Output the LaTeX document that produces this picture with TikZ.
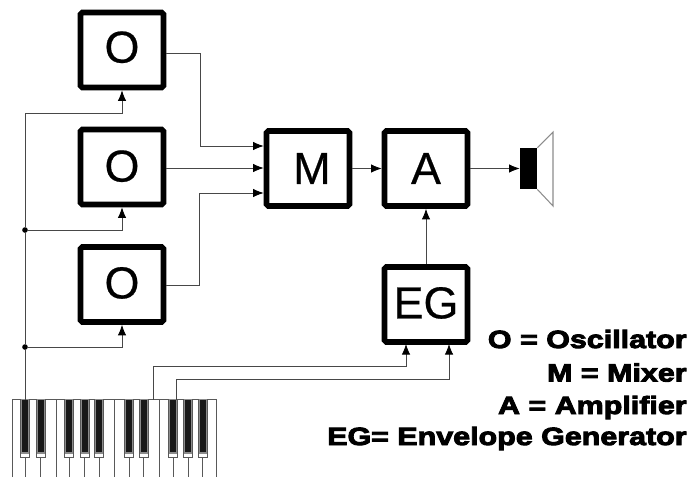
\documentclass[tikz,border=0pt]{standalone}
\usepackage{fontspec}
\setmainfont{Liberation Sans}
\newfontfamily\legendfont[FakeBold=3.8,FakeStretch=1.22]{Liberation Sans Bold}
\newfontfamily\modulefont[FakeBold=0.5]{Liberation Sans}
\usetikzlibrary{arrows.meta}
\begin{document}
\begin{tikzpicture}[
  x=0.02cm, y=-0.02cm,
  >={Latex[black,length=6pt,width=4.8pt]},
  wire/.style={line width=0.45pt, draw=black!72},
  feed/.style={->, line width=0.45pt, draw=black!72},
  module/.style={draw=black, line width=3.2pt, rounded corners=1pt, minimum width=1.66cm, minimum height=1.5cm, inner sep=0pt, font=\modulefont\fontsize{25.5}{26}\selectfont, text=black},
  junction/.style={circle, fill=black, inner sep=0pt, minimum size=3.2pt},
  legend/.style={anchor=base east, inner sep=0pt, font=\legendfont\fontsize{14.2}{16}\selectfont, text=black},
  whitekey/.style={line width=0.5pt, draw=black!65},
  blackkey/.style={fill=black!90, draw=black!45, line width=0.7pt}
]
\useasboundingbox (0,0) rectangle (689,477);

% modules
\node[module] (osca) at (122,50) {\raisebox{3.4pt}{O}};
\node[module] (oscb) at (122,167) {\raisebox{1.2pt}{O}};
\node[module] (oscc) at (122,284.5) {\raisebox{2pt}{O}};
\node[module] (mixer) at (308,168.5) {\hspace*{4.5pt}M};
\node[module] (amp) at (426,168.5) {A};
\node[module] (eg) at (426,304.5) {\raisebox{2pt}{EG}};

% speaker
\node[fill=black, minimum width=0.34cm, minimum height=0.82cm, inner sep=0pt] (speaker) at (528.5,168.5) {};
\draw[line width=0.6pt, draw=black!45] (speaker.north east) -- (553,132) -- (553,206) -- (speaker.south east);

% keyboard
\draw[whitekey] (12.5,477) -- (12.5,399.5) -- (216.5,399.5) -- (216.5,477);
\foreach \sep in {56,114,159.5}
  \draw[whitekey] (\sep,399.5) -- (\sep,477);
\foreach \keyx in {25,40.7,69.3,84.7,99,129,143.7,173,188,202.7} {
  \draw[whitekey] (\keyx,457) -- (\keyx,477);
  \draw[whitekey, fill=white] (\keyx-4.5,399.5) rectangle (\keyx+4.5,457);
  \draw[blackkey] (\keyx-3.5,399.5) rectangle (\keyx+3.5,453);
}

\coordinate (keyfeed) at (25,399.5);
\coordinate (keygate) at (153,399.5);
\coordinate (keytrig) at (176,399.5);
\coordinate (mixa) at (mixer.west |- 0,146);
\coordinate (mixb) at (mixer.west |- 0,168);
\coordinate (mixc) at (mixer.west |- 0,193);
\coordinate (egin) at (406,344);
\coordinate (egim) at (449,344);

\node[junction] (joinb) at (25,230) {};
\node[junction] (joinc) at (25,347) {};

% pitch lines
\draw[wire] (keyfeed) -- (joinc);
\draw[wire] (joinc) -- (joinb);
\draw[feed] (joinb) -- (25,113) -- (122,113) -- (osca.south);
\draw[feed] (joinb) -- (122,230) -- (oscb.south);
\draw[feed] (joinc) -- (122,347) -- (oscc.south);

% audio path
\draw[feed] (osca.east |- 0,53) -- (200,53) -- (200,146) -- (mixa);
\draw[feed] (oscb.east |- 0,168) -- (mixb);
\draw[feed] (oscc.east |- 0,285) -- (199,285) -- (199,193) -- (mixc);
\draw[feed] (mixer.east) -- (amp.west);
\draw[feed] (amp.east) -- (speaker.west);
\draw[feed] (eg.north) -- (amp.south);

% envelope triggers
\draw[feed] (keygate) -- (153,366) -- (406,366) -- (egin);
\draw[feed] (keytrig) -- (176,379) -- (449,379) -- (egim);

% legend
\node[legend] (lego) at (687,348) {O = Oscillator};
\node[legend] (legm) at (687,381.5) {M = Mixer};
\node[legend] (lega) at (687,414) {A = Amplifier};
\node[legend] (lege) at (687,445) {EG= Envelope Generator};

\end{tikzpicture}
\end{document}
